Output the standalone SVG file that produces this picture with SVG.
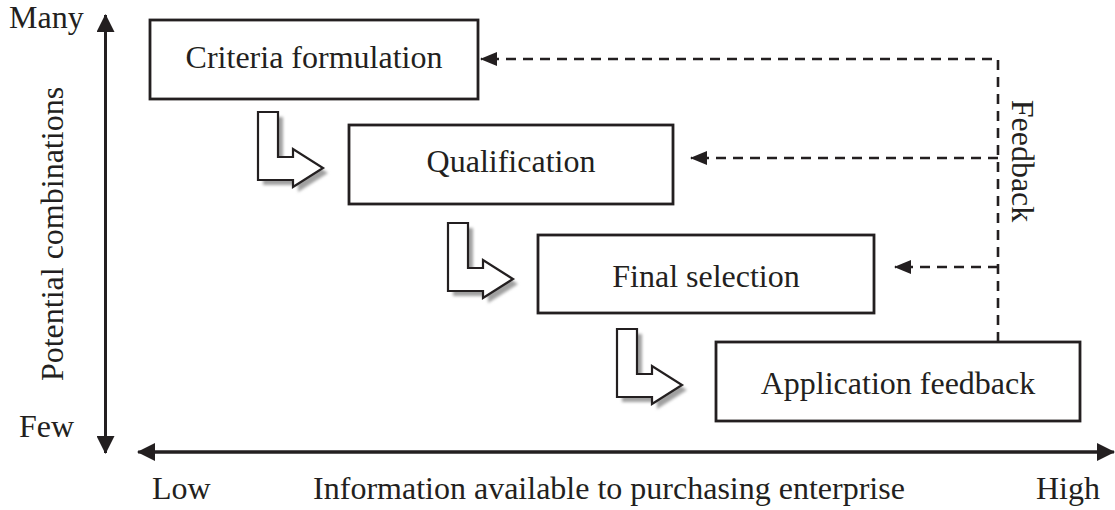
<svg xmlns="http://www.w3.org/2000/svg" xmlns:xlink="http://www.w3.org/1999/xlink" width="1115" height="510" viewBox="0 0 1115 510">
  <style>
    text { font-family: "Liberation Serif", "Times New Roman", serif; fill: #231f20; }
    .lbl { font-size: 32px; }
    .box { fill: #ffffff; stroke: #231f20; stroke-width: 2.8; }
    .axis { stroke: #231f20; stroke-width: 3; fill: none; }
    .dash { stroke: #231f20; stroke-width: 2.6; fill: none; stroke-dasharray: 10 7; }
    .step { fill: #ffffff; stroke: #231f20; stroke-width: 2.2; stroke-linejoin: miter; }
    .shadow { fill: #a0a0a0; stroke: none; }
  </style>
  <defs>
    <marker id="axisHead" viewBox="0 0 18 18" refX="17" refY="9" markerWidth="18" markerHeight="18" markerUnits="userSpaceOnUse" orient="auto">
      <path d="M0,0 L18,9 L0,18 Z" fill="#231f20"/>
    </marker>
    <marker id="fbHead" viewBox="0 0 17 14" refX="16" refY="7" markerWidth="17" markerHeight="14" markerUnits="userSpaceOnUse" orient="auto">
      <path d="M0,0 L17,7 L0,14 Z" fill="#231f20"/>
    </marker>
    <filter id="soft" x="-20%" y="-20%" width="140%" height="140%">
      <feGaussianBlur stdDeviation="1.6"/>
    </filter>
    <!-- bent step arrow, origin at top-left of the vertical bar -->
    <path id="bend" d="M0,0 L20,0 L20,45 L35,45 L35,37 L65,56 L35,75 L35,68 L0,68 Z"/>
  </defs>

  <!-- axes -->
  <g id="axes">
    <line class="axis" x1="105.5" y1="440" x2="105.5" y2="15" marker-end="url(#axisHead)"/>
    <line class="axis" x1="105.5" y1="30" x2="105.5" y2="453" marker-end="url(#axisHead)"/>
    <line class="axis" x1="1100" y1="452" x2="138" y2="452" marker-end="url(#axisHead)"/>
    <line class="axis" x1="150" y1="452" x2="1114" y2="452" marker-end="url(#axisHead)"/>
  </g>

  <!-- axis labels -->
  <g id="axis-labels">
    <text class="lbl" x="9" y="28">Many</text>
    <text class="lbl" x="19" y="437">Few</text>
    <text class="lbl" x="152" y="499">Low</text>
    <text class="lbl" x="609" y="499" text-anchor="middle">Information available to purchasing enterprise</text>
    <text class="lbl" x="1036" y="499">High</text>
    <text class="lbl" transform="translate(63,234) rotate(-90)" text-anchor="middle">Potential combinations</text>
  </g>

  <!-- step arrows between stages -->
  <g id="steps">
    <g transform="translate(258,112)">
      <use xlink:href="#bend" class="shadow" transform="translate(5,5)" filter="url(#soft)"/>
      <use xlink:href="#bend" class="step"/>
    </g>
    <g transform="translate(448,223)">
      <use xlink:href="#bend" class="shadow" transform="translate(5,5)" filter="url(#soft)"/>
      <use xlink:href="#bend" class="step"/>
    </g>
    <g transform="translate(617,329)">
      <use xlink:href="#bend" class="shadow" transform="translate(5,5)" filter="url(#soft)"/>
      <use xlink:href="#bend" class="step"/>
    </g>
  </g>

  <!-- stages -->
  <g id="criteria">
    <rect class="box" x="150" y="20" width="328" height="79"/>
    <text class="lbl" x="314" y="68" text-anchor="middle">Criteria formulation</text>
  </g>
  <g id="qualification">
    <rect class="box" x="349" y="125" width="324" height="79"/>
    <text class="lbl" x="511" y="172" text-anchor="middle">Qualification</text>
  </g>
  <g id="final-selection">
    <rect class="box" x="538" y="235" width="336" height="78"/>
    <text class="lbl" x="706" y="287" text-anchor="middle">Final selection</text>
  </g>
  <g id="application-feedback">
    <rect class="box" x="716" y="342" width="364" height="79"/>
    <text class="lbl" x="898" y="394" text-anchor="middle">Application feedback</text>
  </g>

  <!-- feedback loop -->
  <g id="connectors">
    <path class="dash" d="M998,342 L998,59 L481,59" marker-end="url(#fbHead)"/>
    <path class="dash" d="M998,158 L691,158" marker-end="url(#fbHead)"/>
    <path class="dash" d="M998,267 L895,267" marker-end="url(#fbHead)"/>
  </g>
  <text class="lbl" transform="translate(1012,161) rotate(90)" text-anchor="middle">Feedback</text>
</svg>
